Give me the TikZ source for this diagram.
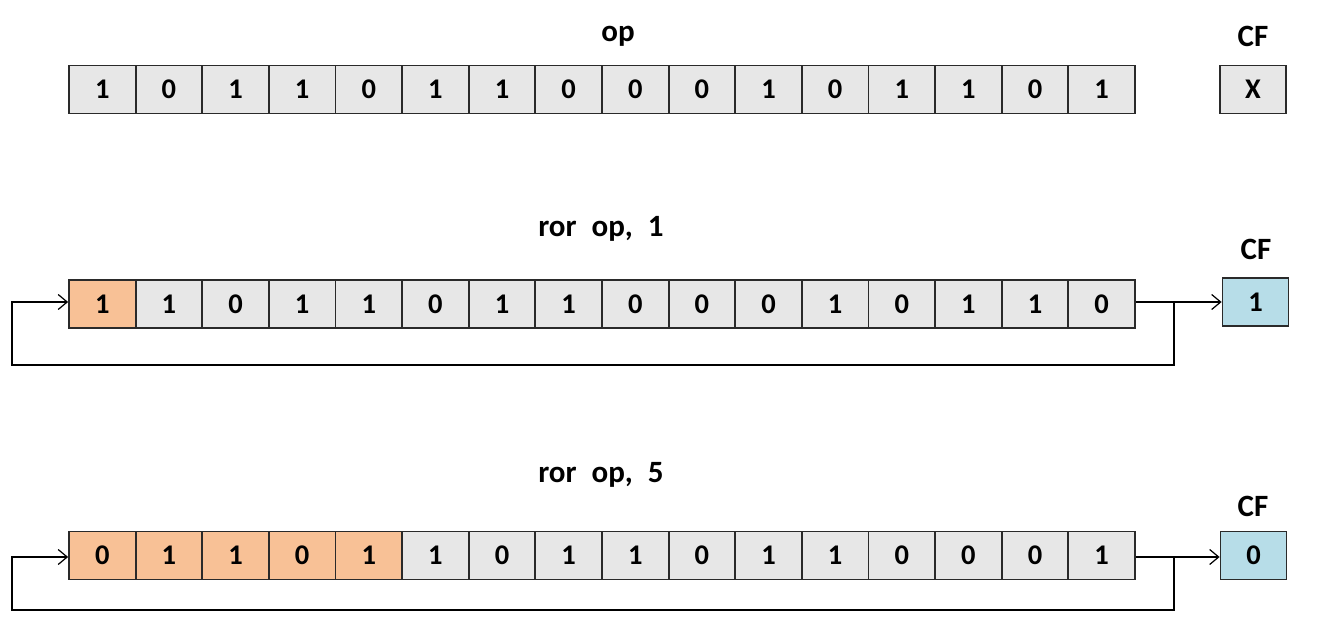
\documentclass[tikz,border=0pt]{standalone}
\usepackage{fontspec}
\setmainfont{Carlito}
\usetikzlibrary{arrows.meta}
\definecolor{cellgray}{HTML}{E7E7E7}
\definecolor{cellorange}{HTML}{F8C196}
\definecolor{cellblue}{HTML}{B7DDE8}
\definecolor{edge}{HTML}{2A2A2A}
\tikzset{
  cell/.style={draw=edge, line width=1.8pt, fill=cellgray, minimum width=66.6pt, minimum height=48pt, inner sep=0pt, font=\fontsize{28.5}{30}\selectfont\bfseries},
  hot/.style={cell, fill=cellorange},
  cfbox/.style={cell, fill=cellblue, minimum width=66pt},
  title/.style={font=\fontsize{31}{33}\selectfont\bfseries, inner sep=0pt},
  link/.style={draw=black, line width=1.2pt},
  tip/.style={-{Straight Barb[length=9pt,width=15pt,line width=1.2pt]}}
}
\newcommand{\gapsp}{\hspace{15pt}}
\begin{document}
\begin{tikzpicture}[x=1pt,y=-1pt]
\useasboundingbox (0,0) rectangle (1319,644);
% row 1
\foreach \v [count=\i] in {1,0,1,1,0,1,1,0,0,0,1,0,1,1,0,1}{
  \node[cell] (r1c\i) at ({69+66.625*(\i-0.5)},89.5) {\v};
}
\node[cell, minimum width=66pt] (cf1) at (1253,89.5) {X};
\node[title] (t1) at (618,36) {op};
\node[title] (c1) at (1253,36) {CF};
% row 2
\foreach \v [count=\i] in {1,1,0,1,1,0,1,1,0,0,0,1,0,1,1,0}{
  \ifnum\i=1
    \node[hot] (r2c\i) at ({69+66.625*(\i-0.5)},304) {\v};
  \else
    \node[cell] (r2c\i) at ({69+66.625*(\i-0.5)},304) {\v};
  \fi
}
\node[cfbox] (cf2) at (1255.5,302) {1};
\node[title] (t2) at (601,229) {ror\gapsp op,\gapsp 1};
\node[title] (c2) at (1256,249) {CF};
% row 3
\foreach \v [count=\i] in {0,1,1,0,1,1,0,1,1,0,1,1,0,0,0,1}{
  \ifnum\i<6
    \node[hot] (r3c\i) at ({69+66.625*(\i-0.5)},555.5) {\v};
  \else
    \node[cell] (r3c\i) at ({69+66.625*(\i-0.5)},555.5) {\v};
  \fi
}
\node[cfbox] (cf3) at (1253.5,555.5) {0};
\node[title] (t3) at (601,475) {ror\gapsp op,\gapsp 5};
\node[title] (c3) at (1253,506) {CF};
% connectors row 2
\coordinate (b2) at (1174,302);
\coordinate (l2) at (12,365);
\draw[link, tip] (r2c16.east |- b2) -- (cf2.west |- b2);
\draw[link, tip] (b2) |- (l2) |- (r2c1.west |- b2);
% connectors row 3
\coordinate (b3) at (1174,557);
\coordinate (l3) at (12,610);
\draw[link, tip] (r3c16.east |- b3) -- (cf3.west |- b3);
\draw[link, tip] (b3) |- (l3) |- (r3c1.west |- b3);
\end{tikzpicture}
\end{document}
